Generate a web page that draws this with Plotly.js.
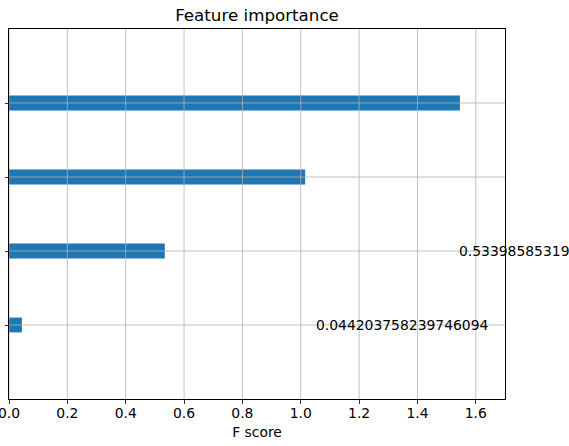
<!DOCTYPE html>
<html>
<head>
<meta charset="utf-8">
<script src="https://cdn.plot.ly/plotly-3.0.1.min.js"></script>
<style>html,body{margin:0;padding:0;background:#fff;}</style>
</head>
<body>
<div id="chart" style="width:569px;height:446px;"></div>
<script>
const features = ["f3", "f2", "f1", "f0"];
const scores = [0.044203758239746094, 0.5339858531951904, 1.0152740478515625, 1.5455303192138672];
const xTicks = [0, 0.2, 0.4, 0.6, 0.8, 1.0, 1.2, 1.4, 1.6];
const xTickText = ["0.0", "0.2", "0.4", "0.6", "0.8", "1.0", "1.2", "1.4", "1.6"];

const idx = scores.map((_, i) => i);
const xMax = Math.max(...scores) * 1.1;
const font = "DejaVu Sans, sans-serif";
const gridColor = "#b0b0b0";

const shapes = [];
idx.forEach(i => shapes.push({type: "line", xref: "paper", yref: "y", x0: 0, x1: 1, y0: i, y1: i,
  line: {color: gridColor, width: 0.8}, layer: "above"}));
xTicks.forEach(v => shapes.push({type: "line", xref: "x", yref: "paper", x0: v, x1: v, y0: 0, y1: 1,
  line: {color: gridColor, width: 0.8}, layer: "above"}));

const annotations = idx.map(i => ({
  x: scores[i] + 1, y: i, xref: "x", yref: "y", text: String(scores[i]),
  showarrow: false, xanchor: "left", yanchor: "middle", font: {family: font, size: 13.9, color: "#000"}
}));

Plotly.newPlot("chart", [{
  type: "bar", orientation: "h", x: scores, y: idx, width: 0.2,
  marker: {color: "#1f77b4", line: {width: 0}}, hoverinfo: "none"
}], {
  width: 569, height: 446,
  margin: {l: 9, r: 64, t: 29, b: 47},
  paper_bgcolor: "#fff", plot_bgcolor: "#fff",
  title: {text: "Feature importance", font: {family: font, size: 16.7, color: "#000"}, x: 0.5, xref: "paper", y: 1, yref: "paper", yanchor: "bottom", pad: {b: 8}},
  xaxis: {range: [0, xMax], tickvals: xTicks, ticktext: xTickText, showgrid: false, zeroline: false,
    ticks: "outside", ticklen: 3.5, tickwidth: 0.8, tickcolor: "#000",
    showline: true, linecolor: "#000", linewidth: 1, mirror: true,
    ticklabeloverflow: "allow", ticklabelstandoff: -2,
    tickfont: {family: font, size: 13.9, color: "#000"},
    title: {text: "F score", font: {family: font, size: 13.9, color: "#000"}, standoff: 7}},
  yaxis: {range: [-1, scores.length], tickvals: idx, ticktext: idx.map(() => ""), showgrid: false, zeroline: false,
    ticks: "outside", ticklen: 3.5, tickwidth: 0.8, tickcolor: "#000",
    showline: true, linecolor: "#000", linewidth: 1, mirror: true},
  shapes: shapes,
  annotations: annotations,
  showlegend: false
}, {displayModeBar: false, staticPlot: true});
</script>
</body>
</html>
